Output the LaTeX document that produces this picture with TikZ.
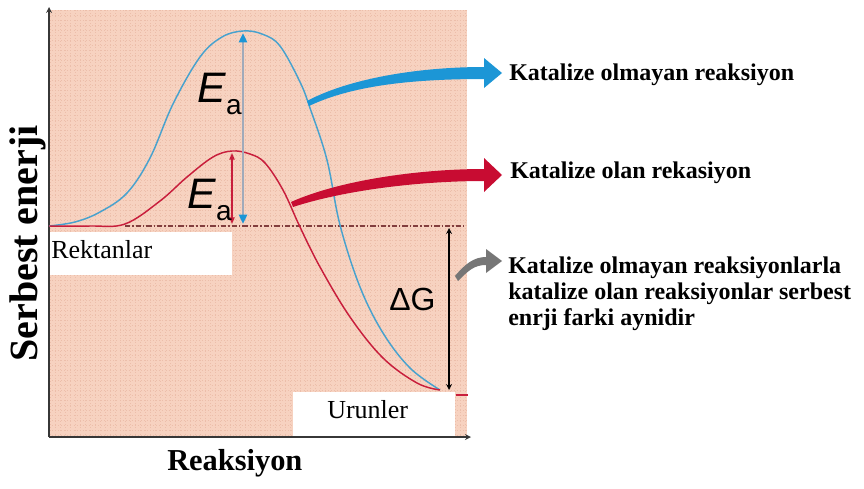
\documentclass[tikz,border=0pt]{standalone}
\usepackage{fontspec}
\setmainfont{Liberation Serif}
\setsansfont{Liberation Sans}
\usetikzlibrary{arrows.meta,calc,positioning}

\definecolor{peach}{RGB}{247,210,192}
\definecolor{peachgrid}{RGB}{236,190,170}
\definecolor{curveblue}{RGB}{72,162,206}
\definecolor{arrowblue}{RGB}{28,150,214}
\definecolor{curvered}{RGB}{200,30,60}
\definecolor{arrowred}{RGB}{200,12,50}
\definecolor{eashaft}{RGB}{160,170,186}
\definecolor{dashline}{RGB}{130,62,62}
\definecolor{axisgray}{RGB}{55,55,55}
\definecolor{arrowgray}{RGB}{118,118,118}

\tikzset{
  curve/.style={line width=1.1pt, line join=round},
  lbl/.style={anchor=base west, inner sep=0pt, font=\fontsize{18}{20}\selectfont\bfseries},
  boxtxt/.style={anchor=base west, inner sep=0pt, font=\fontsize{19.5}{22}\selectfont},
  ealbl/.style={anchor=base west, inner sep=0pt, font=\sffamily\fontsize{32}{34}\selectfont},
}
\newcommand{\Ealbl}{\textit{E}\raisebox{-9pt}{\fontsize{21}{22}\selectfont a}}

\begin{document}
\begin{tikzpicture}[>=stealth, x=0.75pt, y=-0.75pt]
  \useasboundingbox (0,0) rectangle (864,489);
  % plot area
  \fill[peach] (49,10) rectangle (467,437);
  \draw[peachgrid, line width=0.3pt, dotted, step=3.75pt] (49,10) grid (467,437);
  \fill[white] (49,232) rectangle (232,275);
  \fill[white] (293,392) rectangle (455,437);
  \node[boxtxt] (rekt) at (51,258) {Rektanlar};
  \node[boxtxt] (urun) at (327,418) {Urunler};
  % axes
  \coordinate (origin) at (49,437);
  \draw[axisgray, line width=1pt, ->] (origin) -- (49,7);
  \draw[axisgray, line width=1pt, ->] (origin) -- (471,437);
  \node[anchor=base west, inner sep=0pt, rotate=90, font=\fontsize{30}{32}\selectfont\bfseries] (ylab) at (37,362) {Serbest enerji};
  \node[anchor=base west, inner sep=0pt, font=\fontsize{22.8}{25}\selectfont\bfseries] (xlab) at (167,470) {Reaksiyon};
  % reactant level
  \draw[dashline, line width=0.8pt, dash pattern=on 4pt off 1.5pt on 1pt off 1.5pt] (125,226) -- (466,226);
  % curves
  \draw[curve, curveblue] plot[smooth, tension=0.6] coordinates {(49,226) (75,222) (100,212) (127,193) (150,158) (173,104) (200,57) (222,37) (243,31) (262,34) (280,46) (300,82) (310,108) (327,160) (340,225) (360,287) (383,333) (410,368) (440,390)};
  \draw[curve, curvered] plot[smooth, tension=0.6] coordinates {(49,226) (90,226) (125,224) (160,201) (187,177) (213,157) (232,151) (250,154) (265,163) (283,190) (300,227) (320,267) (350,317) (383,358) (417,383) (440,390)};
  \draw[curvered, line width=1.3pt] (456,395) -- (468,395);
  % activation energies
  \coordinate (bluetop) at (243,33);
  \coordinate (redtop) at (232,153);
  \coordinate (blueEa) at (243,224);
  \coordinate (redEa) at (232,224);
  \draw[eashaft, line width=2.2pt, {Triangle[color=arrowblue, length=7pt, width=6pt]}-{Triangle[color=arrowblue, length=7pt, width=6pt]}] (blueEa) -- (bluetop);
  \draw[curvered, line width=0.9pt, {Triangle[length=5pt, width=4pt]}-{Triangle[length=5pt, width=4pt]}] (redEa) -- (redtop);
  \node[ealbl] (eablue) at (197,102) {\Ealbl};
  \node[ealbl] (eared) at (187,208) {\Ealbl};
  % free energy change
  \coordinate (dgtop) at (449,228);
  \coordinate (dgbot) at (449,390);
  \draw[black, line width=1pt, <->] (dgtop) -- (dgbot);
  \node[ealbl, font=\sffamily\fontsize{24}{26}\selectfont] (dg) at (389,310) {ΔG};
  % labels on the right
  \node[lbl] (nocat) at (509,80) {Katalize olmayan reaksiyon};
  \node[lbl] (cat) at (510,178) {Katalize olan rekasiyon};
  \node[lbl] (same1) at (508,273) {Katalize olmayan reaksiyonlarla};
  \node[lbl] (same2) at (508,299) {katalize olan reaksiyonlar serbest};
  \node[lbl] (same3) at (508,325) {enrji farki aynidir};
  % pointer arrows
  \coordinate (blueA) at (307,101);
  \coordinate (redA) at (291,202);
  \coordinate (grayA) at (455,276);
  \coordinate (tipA) at ($(nocat.base west)+(-7,-7)$);
  \coordinate (tipB) at ($(cat.base west)+(-8,-3)$);
  \coordinate (tipC) at ($(same1.base west)+(-6,-12)$);
  \fill[arrowblue] (blueA) .. controls +(43,-23) and +(-64,0) .. ($(tipA)+(-18,-6)$) -- ++(0,-9) -- (tipA) -- ++(-18,15) -- ++(0,-9) .. controls +(-64,0) and +(46,-22) .. ($(blueA)+(2,5)$) -- cycle;
  \fill[arrowred] (redA) .. controls +(49,-22) and +(-64,0) .. ($(tipB)+(-18,-6)$) -- ++(0,-11) -- (tipB) -- ++(-18,17) -- ++(0,-11) .. controls +(-64,0) and +(52,-17) .. ($(redA)+(2,5)$) -- cycle;
  \fill[arrowgray] (grayA) .. controls +(10,-12) and +(-12,0) .. ($(tipC)+(-16,-4)$) -- ++(0,-8) -- (tipC) -- ++(-16,12) -- ++(0,-8) .. controls +(-12,0) and +(10,-10) .. ($(grayA)+(3,5)$) -- cycle;
\end{tikzpicture}
\end{document}
